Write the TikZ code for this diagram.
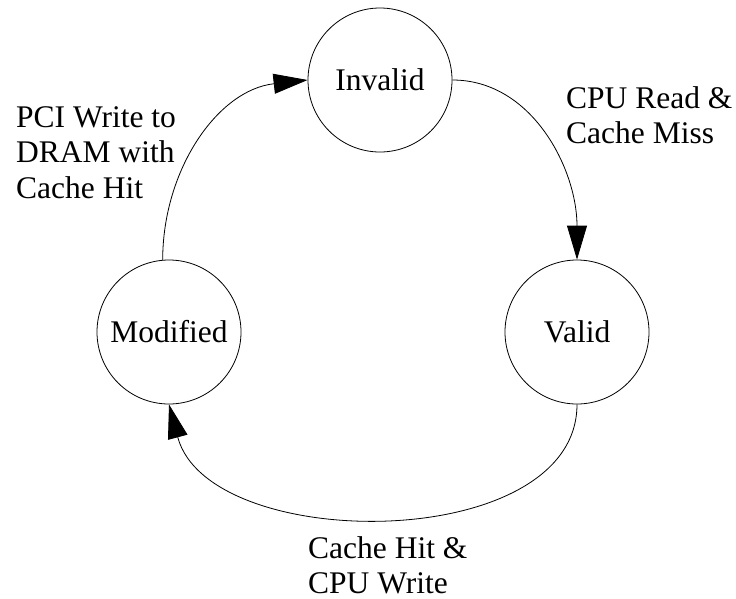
\documentclass[tikz,border=0pt]{standalone}
\usepackage{fontspec}
\setmainfont{Liberation Serif}
\usetikzlibrary{arrows.meta}

\begin{document}
\begin{tikzpicture}[x=1pt,y=-1pt,
  every node/.style={font=\fontsize{31.5}{35.5}\selectfont},
  state/.style={draw,circle,minimum size=144pt,inner sep=0pt,line width=0.8pt},
  lbl/.style={anchor=base west,align=left,inner sep=0pt},
  trans/.style={line width=0.8pt,-{Triangle[length=34pt,width=20pt]}}]
  \useasboundingbox (0,0) rectangle (736,598);

  \node[state] (inv) at (380,80) {Invalid};
  \node[state] (val) at (577,332) {Valid};
  \node[state] (mod) at (169,332) {Modified};

  \draw[trans] (inv.east) .. controls +(80,0) and +(0,-90) .. (val.north);
  \draw[trans] (val.south) .. controls +(0,150) and +(40,150) .. (mod.south);
  \draw[trans] (mod.95) .. controls +(0,-90) and +(-90,10) .. (inv.west);

  % base anchor sits on the last line
  \node[lbl] (rdmiss) at (566,143.5) {CPU Read \&\\Cache Miss};
  \node[lbl] (hitwr) at (308,593.5) {Cache Hit \&\\CPU Write};
  \node[lbl] (pciwr) at (16,198) {PCI Write to\\DRAM with\\Cache Hit};
\end{tikzpicture}
\end{document}
